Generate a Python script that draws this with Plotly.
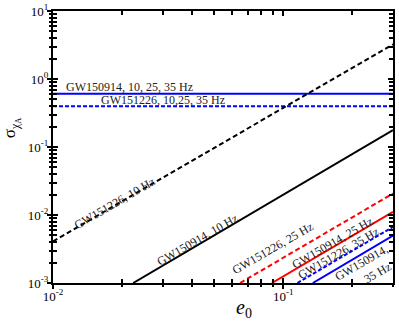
import plotly.graph_objects as go

# Data (log-log straight lines, endpoints)
e0_full = [0.01, 0.3]
gw150914_all_sigma = [0.607, 0.607]
gw151226_all_sigma = [0.396, 0.396]

gw151226_10_e0 = [0.01, 0.3]
gw151226_10_sigma = [0.0041, 3.24]

gw150914_10_e0 = [0.0223, 0.3]
gw150914_10_sigma = [0.001, 0.177]

gw151226_25_e0 = [0.065, 0.3]
gw151226_25_sigma = [0.001, 0.0207]

gw150914_25_e0 = [0.0893, 0.3]
gw150914_25_sigma = [0.001, 0.0111]

gw151226_35_e0 = [0.1153, 0.3]
gw151226_35_sigma = [0.001, 0.00668]

gw150914_35_e0 = [0.1345, 0.3]
gw150914_35_sigma = [0.001, 0.00499]

x_ticks = [0.01, 0.1]
x_ticktext = ["10<sup>-2</sup>", "10<sup>-1</sup>"]
y_ticks = [1e-3, 1e-2, 1e-1, 1, 10]
y_ticktext = ["10<sup>-3</sup>", "10<sup>-2</sup>", "10<sup>-1</sup>", "10<sup>0</sup>", "10<sup>1</sup>"]

BLUE = "#0000ff"
RED = "#ff0000"
BLACK = "#000000"
LW = 2

fig = go.Figure()

def add(x, y, color, dash):
    fig.add_trace(go.Scatter(x=x, y=y, mode="lines",
                             line=dict(color=color, width=LW, dash=dash),
                             showlegend=False, hoverinfo="skip"))

add(e0_full, gw150914_all_sigma, BLUE, "solid")
add(e0_full, gw151226_all_sigma, BLUE, "4px,2px")
add(gw151226_10_e0, gw151226_10_sigma, BLACK, "5px,3px")
add(gw150914_10_e0, gw150914_10_sigma, BLACK, "solid")
add(gw151226_25_e0, gw151226_25_sigma, RED, "5px,3px")
add(gw150914_25_e0, gw150914_25_sigma, RED, "solid")
add(gw151226_35_e0, gw151226_35_sigma, BLUE, "4px,2px")
add(gw150914_35_e0, gw150914_35_sigma, BLUE, "solid")

FONT = "Liberation Serif"
xminor = [k * 0.01 for k in range(2, 10)] + [0.2, 0.3]
yminor = []
for d in [1e-3, 1e-2, 1e-1, 1]:
    yminor += [k * d for k in range(2, 10)]

xr = [-2, -0.5229]
yr = [-3, 1]

fig.update_layout(
    width=399, height=322,
    margin=dict(l=53, r=6, t=11, b=39),
    plot_bgcolor="white", paper_bgcolor="white",
    font=dict(family=FONT, size=12, color="black"),
    xaxis=dict(type="log", range=xr, tickvals=x_ticks, ticktext=x_ticktext,
               ticks="inside", ticklen=5, tickwidth=2, tickcolor="black",
               showline=True, linewidth=2, linecolor="black", mirror="allticks",
               showgrid=False, zeroline=False, automargin=False,
               minor=dict(tickvals=xminor, ticks="inside", ticklen=4, tickwidth=2,
                          tickcolor="black", showgrid=False),
               tickfont=dict(family=FONT, size=13)),
    yaxis=dict(type="log", range=yr, tickvals=y_ticks, ticktext=y_ticktext,
               ticks="inside", ticklen=5, tickwidth=2, tickcolor="black",
               showline=True, linewidth=2, linecolor="black", mirror="allticks",
               showgrid=False, zeroline=False, automargin=False,
               minor=dict(tickvals=yminor, ticks="inside", ticklen=4, tickwidth=2,
                          tickcolor="black", showgrid=False),
               tickfont=dict(family=FONT, size=13)),
    xaxis2=dict(type="log", range=xr, overlaying="x", anchor="y", side="bottom",
                tickvals=x_ticks, ticks="outside", ticklen=5, tickwidth=2,
                tickcolor="black", showticklabels=False, showgrid=False,
                zeroline=False, showline=False, automargin=False,
                minor=dict(tickvals=xminor, ticks="outside", ticklen=3, tickwidth=2,
                           tickcolor="black", showgrid=False)),
    yaxis2=dict(type="log", range=yr, overlaying="y", anchor="x", side="left",
                tickvals=y_ticks, ticks="outside", ticklen=5, tickwidth=2,
                tickcolor="black", showticklabels=False, showgrid=False,
                zeroline=False, showline=False, automargin=False,
                minor=dict(tickvals=yminor, ticks="outside", ticklen=3, tickwidth=2,
                           tickcolor="black", showgrid=False)),
)

# invisible trace to activate the overlay axes
fig.add_trace(go.Scatter(x=[0.01], y=[0.01], xaxis="x2", yaxis="y2", mode="markers",
                         marker=dict(opacity=0), showlegend=False, hoverinfo="skip"))

# axis titles
fig.add_annotation(text="<i>e</i><sub>0</sub>", x=0.562, y=-0.095, xref="paper", yref="paper",
                   showarrow=False, font=dict(family=FONT, size=20, color="black"),
                   xanchor="center", yanchor="middle")
fig.add_annotation(text="σ<sub>χ<sub>A</sub></sub>", x=-0.12, y=0.57, xref="paper", yref="paper",
                   showarrow=False, textangle=-90, font=dict(family=FONT, size=17, color="black"),
                   xanchor="center", yanchor="middle")

ann = [
    ("GW150914, 10, 25, 35 Hz", 0.226, 0.721, 0),
    ("GW151226, 10,25, 35 Hz", 0.324, 0.673, 0),
    ("GW151226, 10 Hz", 0.182, 0.294, -30),
    ("GW150914, 10 Hz", 0.424, 0.158, -30),
    ("GW151226, 25 Hz", 0.647, 0.129, -30),
    ("GW150914, 25 Hz", 0.821, 0.147, -30),
    ("GW151226, 35 Hz", 0.841, 0.110, -30),
    ("GW150914,", 0.906, 0.074, -30),
    ("35 Hz", 0.953, 0.037, -30),
]
for text, x, y, ang in ann:
    fig.add_annotation(text=text, x=x, y=y, xref="paper", yref="paper",
                       showarrow=False, textangle=ang,
                       font=dict(family=FONT, size=12, color="#222"),
                       xanchor="center", yanchor="middle")

fig.write_html("out.html", config={"displayModeBar": False},
               post_script="document.body.style.margin='0';")
